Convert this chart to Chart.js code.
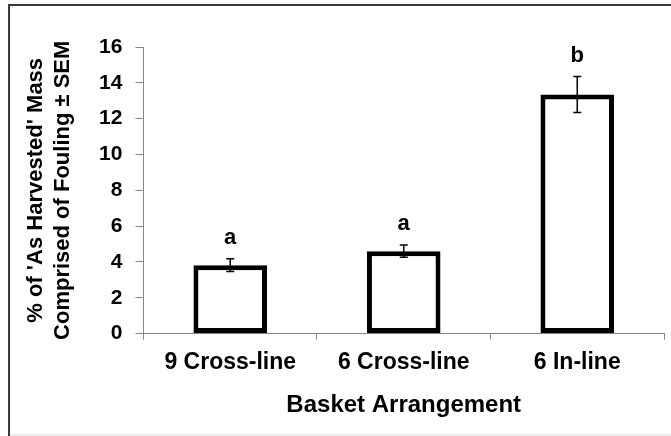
<!DOCTYPE html>
<html>
<head>
<meta charset="utf-8">
<script src="https://cdn.jsdelivr.net/npm/chart.js@4.4.0/dist/chart.umd.min.js"></script>
<style>
  html, body { margin: 0; padding: 0; background: #fff; }
  #wrap { width: 671px; height: 436px; position: relative; }
</style>
</head>
<body>
<div id="wrap"><canvas id="myChart"></canvas></div>
<script>
// Data
const categories = ['9 Cross-line', '6 Cross-line', '6 In-line'];
const meanFouling = [3.82, 4.6, 13.35];
const semFouling = [0.36, 0.34, 1.0];
const sigLetters = ['a', 'a', 'b'];
const yMin = 0;
const yMax = 16;
const yStep = 2;

const FONT = '"Liberation Sans", Arial, sans-serif';
Chart.defaults.font.family = FONT;

// Bingkai luar (garis atas & kiri)
const frame = {
    id: 'frame',
    beforeDraw(chart) {
        const ctx = chart.ctx;
        ctx.save();
        ctx.fillStyle = '#fff';
        ctx.fillRect(0, 0, chart.width, chart.height);
        ctx.strokeStyle = '#3a3a3a';
        ctx.lineWidth = 2;
        ctx.beginPath();
        ctx.moveTo(9, chart.height);
        ctx.lineTo(9, 5);
        ctx.lineTo(chart.width, 5);
        ctx.stroke();
        ctx.strokeStyle = '#ececec';
        ctx.beginPath();
        ctx.moveTo(10, chart.height - 1);
        ctx.lineTo(chart.width, chart.height - 1);
        ctx.stroke();
        ctx.restore();
    }
};

// Error bar (± SEM) dan huruf signifikansi
const errorBars = {
    id: 'errorBars',
    afterDatasetsDraw(chart) {
        const ctx = chart.ctx;
        const y = chart.scales.y;
        const meta = chart.getDatasetMeta(0);
        ctx.save();
        meta.data.forEach((bar, i) => {
            const x = bar.x;
            const top = y.getPixelForValue(meanFouling[i] + semFouling[i]);
            const bot = y.getPixelForValue(meanFouling[i] - semFouling[i]);
            ctx.strokeStyle = '#000';
            ctx.lineWidth = 1.5;
            ctx.beginPath();
            ctx.moveTo(x, top); ctx.lineTo(x, bot);
            ctx.moveTo(x - 4, top); ctx.lineTo(x + 4, top);
            ctx.moveTo(x - 4, bot); ctx.lineTo(x + 4, bot);
            ctx.stroke();

            ctx.fillStyle = '#000';
            ctx.font = 'bold 22px ' + FONT;
            ctx.textAlign = 'center';
            ctx.textBaseline = 'alphabetic';
            ctx.fillText(sigLetters[i], x, top - 15);
        });
        ctx.restore();
    }
};

const ctx = document.getElementById('myChart').getContext('2d');
new Chart(ctx, {
    type: 'bar',
    data: {
        labels: categories,
        datasets: [{
            data: meanFouling,
            backgroundColor: '#fff',
            borderColor: '#000',
            borderWidth: 5,
            borderSkipped: false,
            barPercentage: 0.424,
            categoryPercentage: 1
        }]
    },
    options: {
        responsive: true,
        maintainAspectRatio: false,
        animation: false,
        layout: { padding: { left: 18, right: 7, top: 47, bottom: 12 } },
        plugins: {
            legend: { display: false },
            tooltip: { enabled: false }
        },
        scales: {
            x: {
                grid: { drawOnChartArea: false, tickLength: 6, color: '#868686' },
                border: { color: '#868686', width: 1 },
                ticks: { color: '#000', font: { size: 23, weight: 'bold' }, padding: 9 },
                title: {
                    display: true,
                    text: 'Basket Arrangement',
                    color: '#000',
                    font: { size: 24, weight: 'bold' },
                    padding: { top: 6, bottom: 4 }
                }
            },
            y: {
                min: yMin,
                max: yMax,
                ticks: { stepSize: yStep, color: '#000', font: { size: 21, weight: 'bold' }, padding: 13 },
                grid: { drawOnChartArea: false, tickLength: 8, color: '#868686' },
                border: { color: '#868686', width: 1 },
                title: {
                    display: true,
                    text: ["% of 'As Harvested' Mass", 'Comprised of Fouling ± SEM'],
                    color: '#000',
                    font: { size: 22, weight: 'bold', lineHeight: 1.23 },
                    padding: { top: 4, bottom: 10 }
                }
            }
        }
    },
    plugins: [frame, errorBars]
});
</script>
</body>
</html>
